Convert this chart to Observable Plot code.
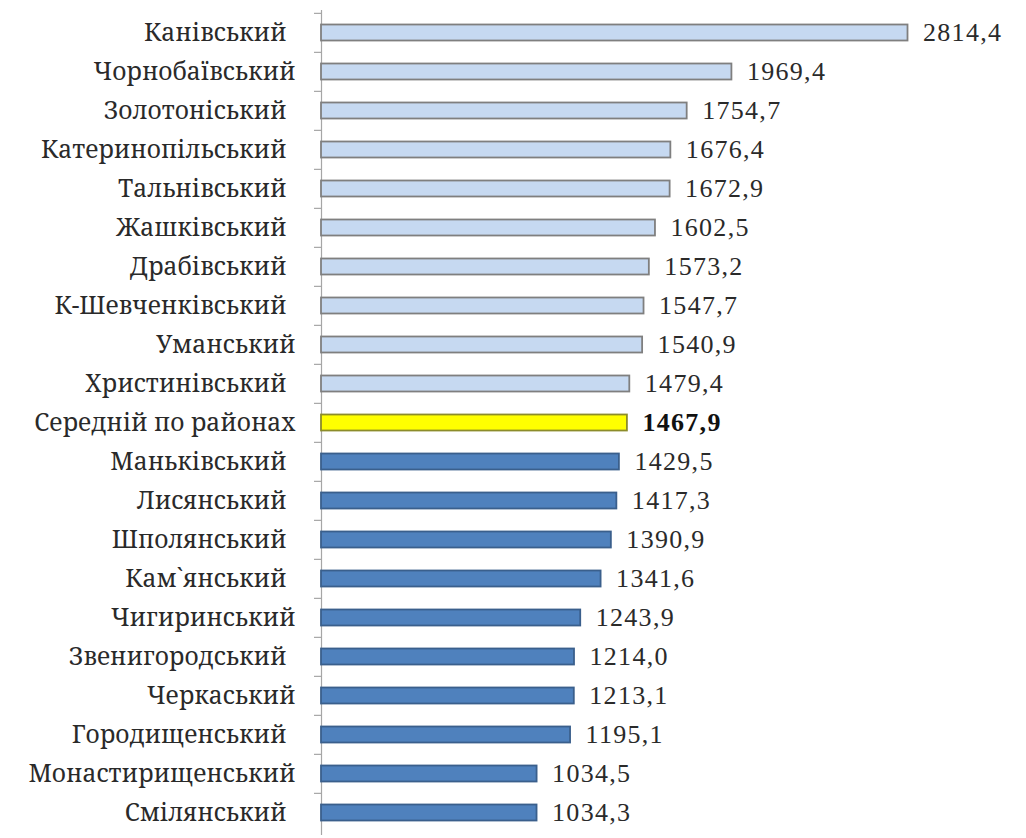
<!DOCTYPE html>
<html>
<head>
<meta charset="utf-8">
<script src="https://cdn.jsdelivr.net/npm/d3@7"></script>
<script src="https://cdn.jsdelivr.net/npm/@observablehq/plot@0.6"></script>
<style>
  html, body { margin: 0; padding: 0; background: #fff; }
  svg { display: block; }
</style>
</head>
<body>
<div id="chart"></div>
<script>
const districts = [
  "Канівський", "Чорнобаївський", "Золотоніський", "Катеринопільський", "Тальнівський",
  "Жашківський", "Драбівський", "К-Шевченківський", "Уманський", "Христинівський",
  "Середній по районах", "Маньківський", "Лисянський", "Шполянський", "Кам`янський",
  "Чигиринський", "Звенигородський", "Черкаський", "Городищенський", "Монастирищенський", "Смілянський"
];
const values = [
  2814.4, 1969.4, 1754.7, 1676.4, 1672.9,
  1602.5, 1573.2, 1547.7, 1540.9, 1479.4,
  1467.9, 1429.5, 1417.3, 1390.9, 1341.6,
  1243.9, 1214.0, 1213.1, 1195.1, 1034.5, 1034.3
];
const averageLabel = "Середній по районах";
// labels that carry a trailing space in the original
const spacedLabels = [
  "Канівський", "Катеринопільський", "Тальнівський", "Жашківський", "К-Шевченківський",
  "Христинівський", "Маньківський", "Звенигородський", "Городищенський", "Шполянський", "Кам`янський",
  "Золотоніський", "Драбівський", "Лисянський", "Смілянський"
];

const data = districts.map((d, i) => ({name: d, value: values[i]}));
const avg = values[districts.indexOf(averageLabel)];
const group = d => d.name === averageLabel ? "avg" : (d.value > avg ? "above" : "below");

const W = 1026, H = 838;
const mTop = 10, mBottom = 3, mLeft = 321;
const xMax = 3383;
const step = (H - mTop - mBottom) / districts.length;
const pxPerUnit = (W - mLeft) / xMax;
const fmt = v => v.toFixed(1).replace(".", ",");
const labelFont = '"Noto Serif", "DejaVu Serif", serif';
const numFont = '"Liberation Serif", "Noto Serif", serif';

const plot = Plot.plot({
  width: W,
  height: H,
  marginTop: mTop,
  marginBottom: mBottom,
  marginLeft: mLeft,
  marginRight: 0,
  style: {fontFamily: labelFont, color: "#222", background: "#fff"},
  x: {domain: [0, xMax], axis: null},
  y: {domain: districts, padding: 0, axis: null},
  color: {
    domain: ["above", "avg", "below"],
    range: ["#c6d9f1", "#ffff00", "#4f81bd"]
  },
  marks: [
    Plot.ruleX([0], {stroke: "#a6a6a6", strokeWidth: 1.2}),
    Plot.ruleY(districts, {y: d => d, x1: -7 / pxPerUnit, x2: 0, dy: -step / 2, stroke: "#a6a6a6", strokeWidth: 1.2}),
    Plot.barX(data, {
      y: "name", x: "value",
      fill: group,
      stroke: d => ({above: "#7f7f7f", avg: "#8c8c2a", below: "#3a5f8c"})[group(d)],
      strokeWidth: 1.8,
      insetTop: 11.5, insetBottom: 11.5
    }),
    Plot.axisY({
      ticks: districts.filter(d => !spacedLabels.includes(d)),
      tickSize: 0, tickPadding: 26, fontSize: 24.5, fill: "#2a2a2a", label: null,
      fontFamily: labelFont
    }),
    Plot.axisY({
      ticks: spacedLabels,
      tickSize: 0, tickPadding: 35, fontSize: 24.5, fill: "#2a2a2a", label: null,
      fontFamily: labelFont
    }),
    Plot.text(data.filter(d => d.name !== averageLabel), {
      y: "name", x: "value", text: d => fmt(d.value),
      dx: 15, textAnchor: "start", fontSize: 26, fill: "#2a2a2a",
      fontFamily: numFont
    }),
    Plot.text(data.filter(d => d.name === averageLabel), {
      y: "name", x: "value", text: d => fmt(d.value),
      dx: 15, textAnchor: "start", fontSize: 26, fontWeight: "bold", fill: "#111",
      fontFamily: numFont
    })
  ]
});
d3.select(plot).selectAll('g[aria-label="text"] text').attr("letter-spacing", 1.3);
document.getElementById("chart").append(plot);
</script>
</body>
</html>
